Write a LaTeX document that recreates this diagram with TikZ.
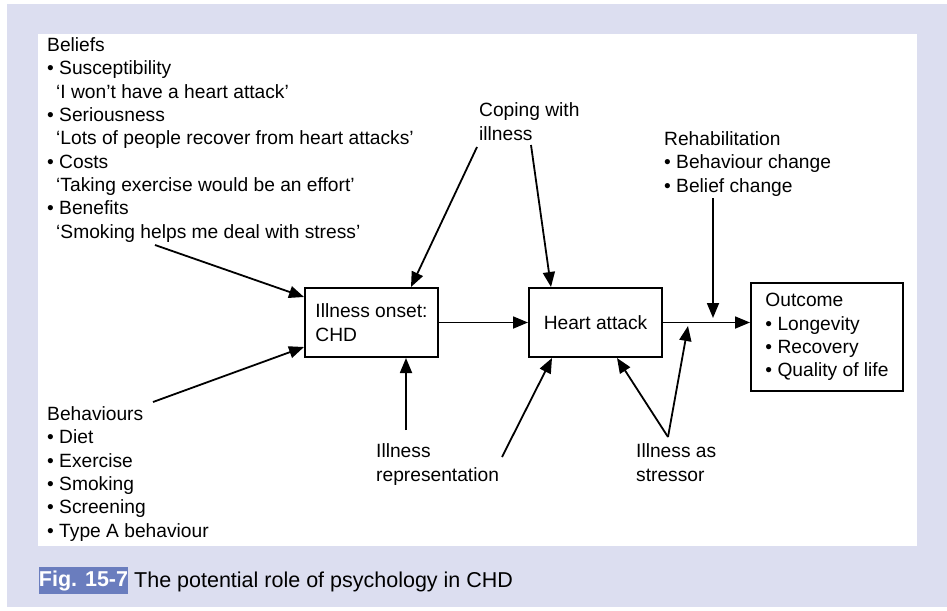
\documentclass[tikz,border=0pt]{standalone}
\usepackage{fontspec}
\setmainfont{Liberation Sans}
\usetikzlibrary{arrows.meta,calc}
\definecolor{lav}{RGB}{220,222,240}
\definecolor{figblue}{RGB}{106,125,190}
\begin{document}
\begin{tikzpicture}[x=1pt,y=-1pt,
  txt/.style={font=\fontsize{19.2}{23.3}\selectfont, inner sep=0pt, align=left, anchor=base west},
  boxnode/.style={draw, line width=2pt, font=\fontsize{19.2}{23.3}\selectfont, align=left, inner sep=0pt},
  arr/.style={line width=1.8pt, -{Triangle[length=15pt,width=12pt]}}]
\useasboundingbox (0,0) rectangle (947,610);
\fill[lav] (7,4) rectangle (947,607);
\fill[white] (38,34) rectangle (917,546);

% text blocks (anchor = baseline of the last line)
\node[txt] (beliefs) at (47,238) {Beliefs\\
• Susceptibility\\
\hspace*{9pt}‘I won’t have a heart attack’\\
• Seriousness\\
\hspace*{9pt}‘Lots of people recover from heart attacks’\\
• Costs\\
\hspace*{9pt}‘Taking exercise would be an effort’\\
• Benefits\\
\hspace*{9pt}‘Smoking helps me deal with stress’};
\node[txt] (behav) at (47,537) {Behaviours\\
• Diet\\
• Exercise\\
• Smoking\\
• Screening\\
• Type A behaviour};
\node[txt] (coping) at (479,140) {Coping with\\illness};
\node[txt] (rehab) at (664,192) {Rehabilitation\\
• Behaviour change\\
• Belief change};
\node[txt] (repr) at (376,481) {Illness\\representation};
\node[txt] (stress) at (636,481) {Illness as\\stressor};

% boxes
\node[boxnode, minimum width=133pt, minimum height=69pt] (onset) at (371.5,322.5) {Illness onset:\\CHD};
\node[boxnode, minimum width=133pt, minimum height=69pt, align=center] (heart) at (595.5,322.5) {Heart attack};
\node[boxnode, minimum width=152pt, minimum height=108pt] (outcome) at (827,337) {Outcome\\
• Longevity\\
• Recovery\\
• Quality of life};

% free ends
\coordinate (b1) at (155,245);
\coordinate (b2) at (153,402);
\coordinate (c1) at (477,147);
\coordinate (c2) at (531,145);
\coordinate (r1) at (713,198);
\coordinate (j1) at (713,318);
\coordinate (p1) at (406,430);
\coordinate (p2) at (502,457);
\coordinate (s1) at (668,437);
\coordinate (j2) at (688,326);

% connectors
\draw[arr] (b1) -- ([yshift=-10pt]onset.north west);
\draw[arr] (b2) -- ([yshift=11pt]onset.south west);
\draw[arr] (c1) -- ([xshift=107pt]onset.north west);
\draw[arr] (c2) -- ([xshift=23pt]heart.north west);
\draw[arr] (onset.east) -- (heart.west);
\draw[arr] (heart.east) -- (heart.east -| outcome.west);
\draw[arr] (r1) -- (j1);
\draw[arr] (p1) -- (p1 |- onset.south);
\draw[arr] (p2) -- ([xshift=24pt]heart.south west);
\draw[arr] (s1) -- ([xshift=89pt]heart.south west);
\draw[arr] (s1) -- (j2);

% caption
\node[fill=figblue, text=white, font=\fontsize{21.5}{24}\selectfont\bfseries, inner sep=0pt, minimum width=89pt, minimum height=27pt] (fig) at (83.5,580.5) {Fig. 15-7};
\node[anchor=base west, inner sep=0pt, font=\fontsize{21.5}{24}\selectfont] (cap) at (134,587) {The potential role of psychology in CHD};
\end{tikzpicture}
\end{document}
